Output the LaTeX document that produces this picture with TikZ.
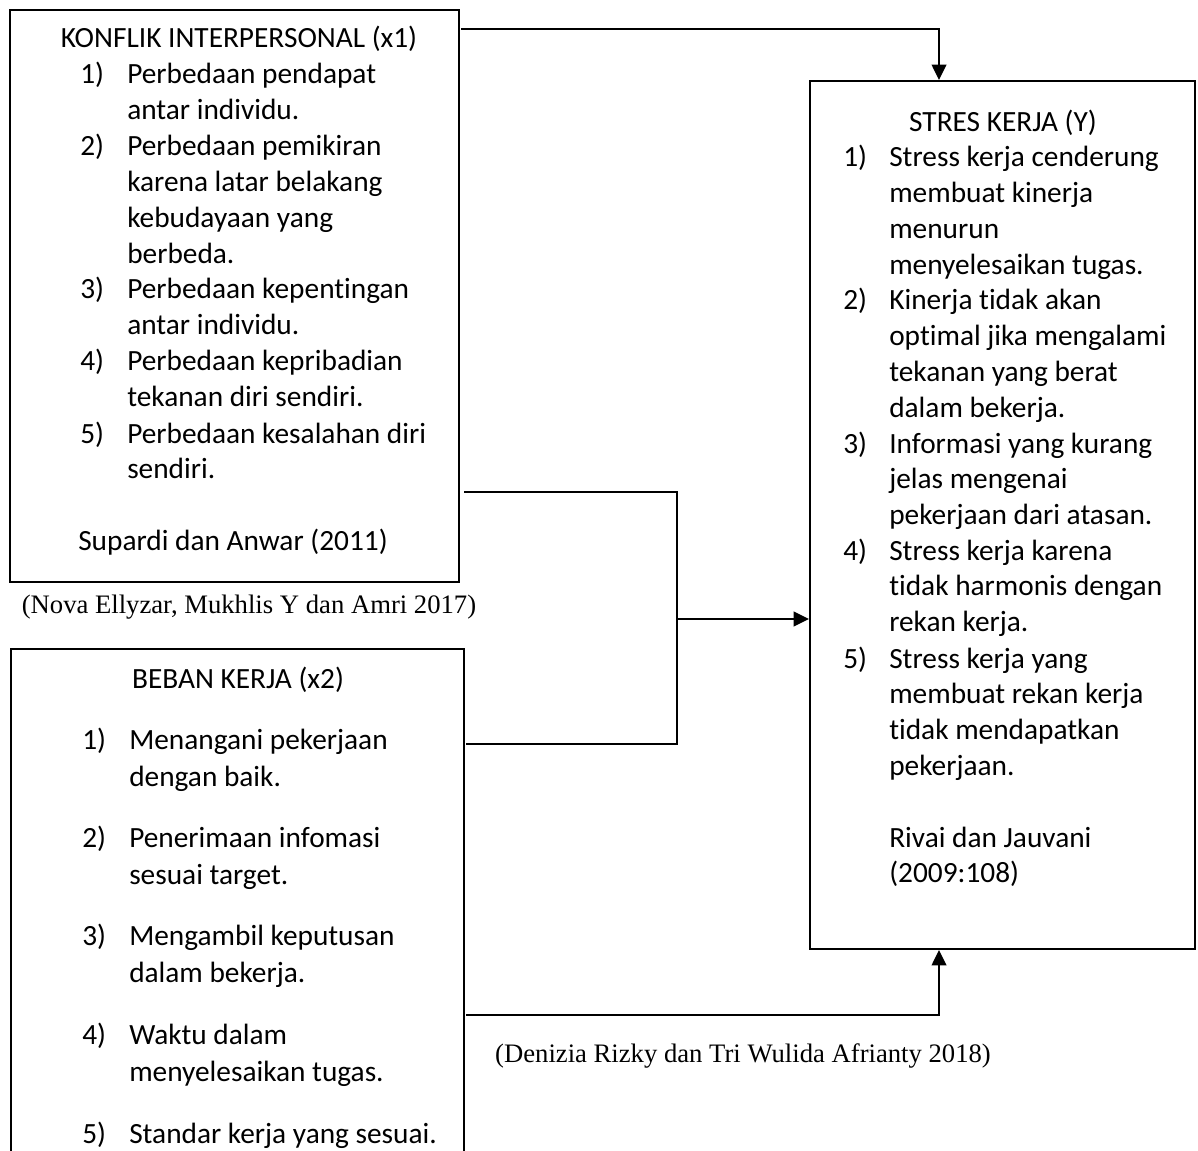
\documentclass[tikz,border=0pt]{standalone}
\usepackage{fontspec}
\setmainfont{Carlito}[Ligatures=NoCommon]
\newfontfamily\timesf{Liberation Serif}
\usetikzlibrary{arrows.meta,calc,fit}
\newcommand\mylines[1]{\parbox[t]{330pt}{\raggedright #1}}
\begin{document}
\begin{tikzpicture}[x=0.75pt,y=-0.75pt,
  box/.style={draw, line width=1.5pt, inner sep=0pt},
  txt/.style={anchor=base west, inner sep=0pt, font=\fontsize{22}{26.9}\selectfont},
  txtb/.style={anchor=base west, inner sep=0pt, font=\fontsize{22}{28}\selectfont},
  ttl/.style={anchor=base, inner sep=0pt, font=\fontsize{22}{26.9}\selectfont},
  cite/.style={anchor=base, inner sep=0pt, font=\timesf\fontsize{20}{23}\selectfont},
  conn/.style={line width=1pt},
  arr/.style={line width=1.2pt, -{Triangle[length=11.5pt,width=11pt]}}
]
\useasboundingbox (0,0) rectangle (1198,1151);
\clip (0,0) rectangle (1198,1151);

% boxes
\node[box, fit={(10,10)(459,582)}] (x1) {};
\node[box, fit={(11,649)(464,1190)}] (x2) {};
\node[box, fit={(810,81)(1195,949)}] (Y) {};

% top box text
\node[ttl] (x1t) at (239,48) {KONFLIK INTERPERSONAL (x1)};
\node[txt] (x1n1) at (80,84) {1)};
\node[txt] (x1i1) at (127,84) {\mylines{Perbedaan pendapat\\antar individu.}};
\node[txt] (x1n2) at (80,156) {2)};
\node[txt] (x1i2) at (127,156) {\mylines{Perbedaan pemikiran\\karena latar belakang\\kebudayaan yang\\berbeda.}};
\node[txt] (x1n3) at (80,299) {3)};
\node[txt] (x1i3) at (127,299) {\mylines{Perbedaan kepentingan\\antar individu.}};
\node[txt] (x1n4) at (80,371) {4)};
\node[txt] (x1i4) at (127,371) {\mylines{Perbedaan kepribadian\\tekanan diri sendiri.}};
\node[txt] (x1n5) at (80,443) {5)};
\node[txt] (x1i5) at (127,443) {\mylines{Perbedaan kesalahan diri\\sendiri.}};
\node[txt] (x1s) at (78,550) {Supardi dan Anwar (2011)};
\node[cite] (c1) at (249,613) {(Nova Ellyzar, Mukhlis Y dan Amri 2017)};

% bottom box text
\node[ttl] (x2t) at (238,688) {BEBAN KERJA (x2)};
\node[txtb] (x2n1) at (82,749) {1)};
\node[txtb] (x2i1) at (129,749) {\mylines{Menangani pekerjaan\\dengan baik.}};
\node[txtb] (x2n2) at (82,847) {2)};
\node[txtb] (x2i2) at (129,847) {\mylines{Penerimaan infomasi\\sesuai target.}};
\node[txtb] (x2n3) at (82,945) {3)};
\node[txtb] (x2i3) at (129,945) {\mylines{Mengambil keputusan\\dalam bekerja.}};
\node[txtb] (x2n4) at (82,1044) {4)};
\node[txtb] (x2i4) at (129,1044) {\mylines{Waktu dalam\\menyelesaikan tugas.}};
\node[txtb] (x2n5) at (82,1143) {5)};
\node[txtb] (x2i5) at (129,1143) {Standar kerja yang sesuai.};

% right box text
\node[ttl] (Yt) at (1003,132) {STRES KERJA (Y)};
\node[txt] (Yn1) at (843,167) {1)};
\node[txt] (Yi1) at (889,167) {\mylines{Stress kerja cenderung\\membuat kinerja\\menurun\\menyelesaikan tugas.}};
\node[txt] (Yn2) at (843,310) {2)};
\node[txt] (Yi2) at (889,310) {\mylines{Kinerja tidak akan\\optimal jika mengalami\\tekanan yang berat\\dalam bekerja.}};
\node[txt] (Yn3) at (843,453) {3)};
\node[txt] (Yi3) at (889,453) {\mylines{Informasi yang kurang\\jelas mengenai\\pekerjaan dari atasan.}};
\node[txt] (Yn4) at (843,560) {4)};
\node[txt] (Yi4) at (889,560) {\mylines{Stress kerja karena\\tidak harmonis dengan\\rekan kerja.}};
\node[txt] (Yn5) at (843,668) {5)};
\node[txt] (Yi5) at (889,668) {\mylines{Stress kerja yang\\membuat rekan kerja\\tidak mendapatkan\\pekerjaan.}};
\node[txt] (Ys) at (889,847) {\mylines{Rivai dan Jauvani\\(2009:108)}};

\node[cite] (c2) at (743,1062) {(Denizia Rizky dan Tri Wulida Afrianty 2018)};

% connectors
\draw[conn] ($(x1.north east)+(1,20)$) -| ($(Y.north west)+(130,-30)$);
\draw[arr] ($(Y.north west)+(130,-30)$) -- ($(Y.north west)+(130,0)$);

\coordinate (J) at (677,619);
\draw[conn] ($(x1.south east)+(4,-91)$) -| (J) |- ($(x2.north east)+(1,96)$);
\draw[arr] (J) -- (J -| Y.west);

\draw[conn] ($(x2.north east)+(1,367)$) -| ($(Y.south west)+(130,30)$);
\draw[arr] ($(Y.south west)+(130,30)$) -- ($(Y.south west)+(130,0)$);
\end{tikzpicture}
\end{document}
